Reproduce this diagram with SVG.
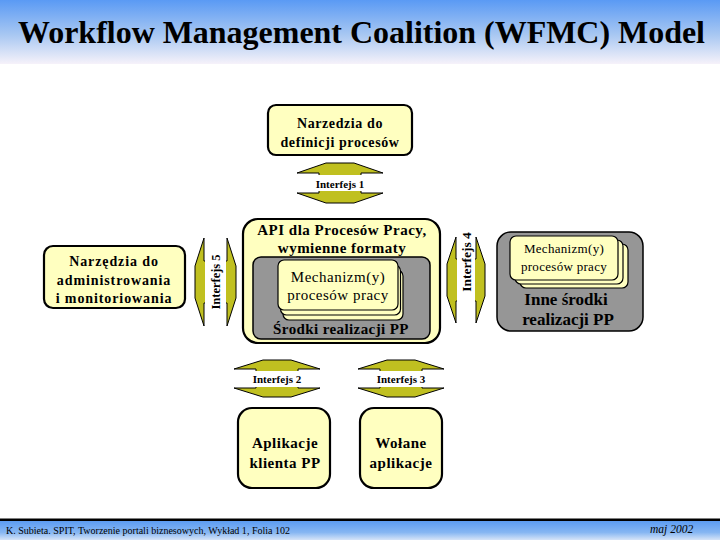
<svg xmlns="http://www.w3.org/2000/svg" width="720" height="540" viewBox="0 0 720 540">
<defs>
<linearGradient id="gTop" x1="0" y1="0" x2="0" y2="1">
<stop offset="0" stop-color="#5A9AF4"/>
<stop offset="0.55" stop-color="#A9C8F2"/>
<stop offset="1" stop-color="#F6F2FA"/>
</linearGradient>
<linearGradient id="gBot" x1="0" y1="0" x2="0" y2="1">
<stop offset="0" stop-color="#5C9CF2"/>
<stop offset="0.6" stop-color="#86B6F2"/>
<stop offset="1" stop-color="#D6E4F8"/>
</linearGradient>
<style>
text{font-family:"Liberation Serif","Times New Roman",serif;fill:#000}
.box{fill:#FFFFC0;stroke:#000;stroke-width:2.2}
.gray{fill:#969696;stroke:#000;stroke-width:1.5}
.card{fill:#FFFFC0;stroke:#000;stroke-width:1.2}
.arr{fill:#C0C020;stroke:#000;stroke-width:1}
.wh{fill:#fff}
.b{font-weight:bold}
.lbl{font-size:11px;font-weight:bold;text-anchor:middle}
.c{text-anchor:middle}
</style>
</defs>
<rect x="0" y="0" width="720" height="64" fill="url(#gTop)"/>
<text x="18" y="43" font-size="32" class="b" textLength="687" lengthAdjust="spacingAndGlyphs">Workflow Management Coalition (WFMC) Model</text>

<g id="connectors">
<g id="if1">
<path class="arr" d="M326,163 L354,163 L383,173 L361,173 L361,193 L383,193 L354,203 L326,203 L297,193 L319,193 L319,173 L297,173 Z"/>
<rect class="wh" x="308" y="175" width="64" height="16"/>
<text class="lbl" x="340" y="188">Interfejs 1</text>
</g>
<g id="if2">
<path class="arr" d="M263,360 L291,360 L320,369 L298,369 L298,388 L320,388 L291,397 L263,397 L234,388 L256,388 L256,369 L234,369 Z"/>
<rect class="wh" x="245" y="371" width="64" height="16"/>
<text class="lbl" x="277" y="383">Interfejs 2</text>
</g>
<g id="if3">
<path class="arr" d="M387,360 L415,360 L444,369 L422,369 L422,388 L444,388 L415,397 L387,397 L358,388 L380,388 L380,369 L358,369 Z"/>
<rect class="wh" x="369" y="371" width="64" height="16"/>
<text class="lbl" x="401" y="383">Interfejs 3</text>
</g>
<g id="if5">
<path class="arr" d="M195,266 L204,238 L204,261 L227,261 L227,238 L236,266 L236,298 L227,326 L227,303 L204,303 L204,326 L195,298 Z"/>
<rect class="wh" x="205" y="246" width="21" height="72"/>
<text class="lbl" style="font-size:12.5px" transform="translate(220,282) rotate(-90)">Interfejs 5</text>
</g>
<g id="if4">
<path class="arr" d="M447,264 L456,237 L456,259 L476,259 L476,237 L485,264 L485,296 L476,323 L476,301 L456,301 L456,323 L447,296 Z"/>
<rect class="wh" x="457" y="224" width="18" height="80"/>
<text class="lbl" style="font-size:13.5px" transform="translate(470.5,262) rotate(-90)">Interfejs 4</text>
</g>
</g>

<g id="n-definicje">
<rect class="box" x="268" y="105" width="144" height="50" rx="8"/>
<text class="c b" x="340" y="128" font-size="14" letter-spacing="0.6">Narzedzia do</text>
<text class="c b" x="340" y="147" font-size="14" letter-spacing="0.6">definicji procesów</text>
</g>

<g id="n-admin">
<rect class="box" x="44" y="246" width="141" height="62" rx="9"/>
<text class="c b" x="114" y="266" font-size="14" letter-spacing="0.9">Narzędzia do</text>
<text class="c b" x="114" y="285" font-size="14" letter-spacing="0.9">administrowania</text>
<text class="c b" x="114" y="303" font-size="14" letter-spacing="0.9">i monitoriowania</text>
</g>

<g id="n-srodki">
<rect class="box" x="243" y="219" width="197" height="124" rx="15" stroke-width="2.6"/>
<text class="c b" x="342" y="235" font-size="15" letter-spacing="0.5">API dla Procesów Pracy,</text>
<text class="c b" x="342" y="253" font-size="15" letter-spacing="0.5">wymienne formaty</text>
<rect class="gray" x="253" y="257" width="177" height="82" rx="8"/>
<rect class="card" x="283" y="270" width="120" height="50" rx="6"/>
<rect class="card" x="280.5" y="265" width="120" height="50" rx="6"/>
<rect class="card" x="278" y="260" width="120" height="50" rx="6"/>
<text class="c" x="338" y="282" font-size="15" letter-spacing="0.5">Mechanizm(y)</text>
<text class="c" x="338" y="300" font-size="15" letter-spacing="0.5">procesów pracy</text>
<text class="c b" x="341" y="334" font-size="15" letter-spacing="0.4">Środki realizacji PP</text>
</g>

<g id="n-inne">
<rect class="gray" x="497" y="232" width="146" height="99" rx="14" stroke-width="2"/>
<rect class="card" x="520" y="244" width="108" height="44" rx="6"/>
<rect class="card" x="515" y="240" width="108" height="44" rx="6"/>
<rect class="card" x="510" y="236" width="108" height="44" rx="6"/>
<text class="c" x="564" y="253" font-size="13" letter-spacing="0.3">Mechanizm(y)</text>
<text class="c" x="564" y="271" font-size="13" letter-spacing="0.3">procesów pracy</text>
<text class="c b" x="566" y="305" font-size="17">Inne środki</text>
<text class="c b" x="568" y="325" font-size="17">realizacji PP</text>
</g>

<g id="n-klient">
<rect class="box" x="238" y="408" width="92" height="80" rx="14"/>
<text class="c b" x="285" y="448" font-size="15" letter-spacing="0.5">Aplikacje</text>
<text class="c b" x="285" y="468" font-size="15" letter-spacing="0.5">klienta PP</text>
</g>

<g id="n-wolane">
<rect class="box" x="360" y="408" width="82" height="80" rx="14"/>
<text class="c b" x="401" y="448" font-size="15" letter-spacing="0.5">Wołane</text>
<text class="c b" x="401" y="468" font-size="15" letter-spacing="0.5">aplikacje</text>
</g>

<rect x="0" y="521" width="720" height="19" fill="url(#gBot)"/>
<rect x="0" y="518.5" width="720" height="2.5" fill="#000"/>
<text x="6" y="534" font-size="9.5" textLength="284" lengthAdjust="spacingAndGlyphs">K. Subieta. SPIT, Tworzenie portali biznesowych, Wykład 1, Folia 102</text>
<text x="650" y="533" font-size="11.5" font-style="italic">maj 2002</text>
</svg>
